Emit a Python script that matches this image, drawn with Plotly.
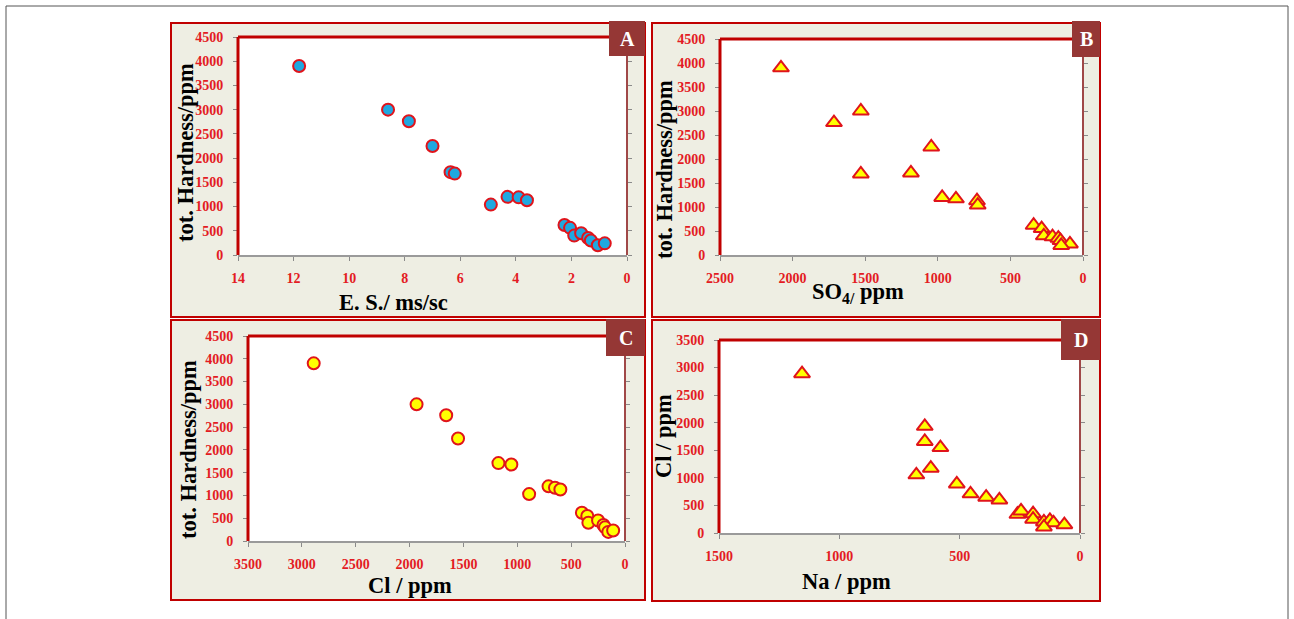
import plotly.graph_objects as go

W, H = 1294, 619

# ---------------- data ----------------
es_A = [11.8, 8.6, 7.85, 7.0, 6.35, 6.2, 4.9, 4.3, 3.9, 3.6, 2.25, 2.05, 1.9, 1.65, 1.4, 1.3, 1.05, 0.8]
th_A = [3900, 3000, 2760, 2250, 1710, 1680, 1040, 1200, 1190, 1130, 620, 560, 400, 450, 350, 300, 200, 240]

so4_B = [2080, 1715, 1530, 1530, 1185, 1045, 970, 875, 730, 725, 340, 285, 270, 210, 170, 155, 90, 150]
th_B = [3900, 2760, 3000, 1690, 1710, 2250, 1200, 1170, 1130, 1040, 620, 550, 400, 380, 350, 300, 230, 200]

cl_C = [2890, 1935, 1660, 1550, 1175, 1055, 890, 710, 650, 600, 400, 350, 340, 250, 200, 185, 155, 110]
th_C = [3900, 3000, 2760, 2250, 1710, 1680, 1030, 1200, 1170, 1130, 620, 550, 400, 450, 350, 300, 200, 230]

na_D = [1155, 645, 645, 580, 620, 680, 512, 455, 390, 335, 260, 245, 195, 195, 150, 125, 110, 65, 150]
cl_D = [2890, 1935, 1660, 1550, 1175, 1055, 890, 710, 650, 600, 340, 400, 350, 250, 200, 230, 185, 150, 110]

x_ticks_A = [14, 12, 10, 8, 6, 4, 2, 0]
x_ticks_B = [2500, 2000, 1500, 1000, 500, 0]
x_ticks_C = [3500, 3000, 2500, 2000, 1500, 1000, 500, 0]
x_ticks_D = [1500, 1000, 500, 0]
y_ticks_TH = [0, 500, 1000, 1500, 2000, 2500, 3000, 3500, 4000, 4500]
y_ticks_D = [0, 500, 1000, 1500, 2000, 2500, 3000, 3500]

# ---------------- layout helpers ----------------
def px(x):
    return x / W

def py(y):
    return 1 - y / H

RED = "#E0141B"
DARKRED = "#C00000"
TICKRED = "#E31B23"
PANEL_BG = "#EEEEE3"
LABEL_BG = "#953735"
SERIF = "Liberation Serif, Times New Roman, serif"
TITLE_SIZE = 22.5

panels = [
    dict(n="", plot=(238, 627, 37, 255), outer=(171, 645, 23, 317), lab=(609, 645, 21, 56), letter="A",
         xr=[14, 0], yr=[0, 4500], xt=x_ticks_A, yt=y_ticks_TH,
         xtitle="E. S./ ms/sc", xtpos=(393, 302), ytitle="tot. Hardness/ppm", ytpos=(185, 153)),
    dict(n="2", plot=(720, 1083, 39, 255), outer=(652, 1100, 23, 317), lab=(1072, 1100, 21, 57), letter="B",
         xr=[2500, 0], yr=[0, 4500], xt=x_ticks_B, yt=y_ticks_TH,
         xtitle="SO<sub>4/</sub> ppm", xtpos=(858, 293), ytitle="tot. Hardness/ppm", ytpos=(665, 170)),
    dict(n="3", plot=(248, 625, 336, 541), outer=(171, 645, 320, 600), lab=(606, 645, 319, 356), letter="C",
         xr=[3500, 0], yr=[0, 4500], xt=x_ticks_C, yt=y_ticks_TH,
         xtitle="Cl / ppm", xtpos=(410, 585), ytitle="tot. Hardness/ppm", ytpos=(188, 450)),
    dict(n="4", plot=(719, 1080, 340, 533), outer=(652, 1100, 320, 601), lab=(1061, 1100, 319, 360), letter="D",
         xr=[1500, 0], yr=[0, 3500], xt=x_ticks_D, yt=y_ticks_D,
         xtitle="Na / ppm", xtpos=(846, 581), ytitle="Cl / ppm", ytpos=(663, 436)),
]

fig = go.Figure()

series = [
    (es_A, th_A, "circle", "#1FA8E0"),
    (so4_B, th_B, "triangle-up", "#FFFF00"),
    (cl_C, th_C, "circle", "#FFFF00"),
    (na_D, cl_D, "triangle-up", "#FFFF00"),
]

shapes = []
annotations = []

# page frame
shapes.append(dict(type="rect", xref="paper", yref="paper", x0=px(6), x1=px(1288), y0=py(630), y1=py(6),
                   line=dict(color="#555555", width=1), fillcolor="rgba(0,0,0,0)", layer="below"))

for p, (xs, ys, sym, col) in zip(panels, series):
    n = p["n"]
    x0, x1, yt_, yb = p["plot"]
    ox0, ox1, oy0, oy1 = p["outer"]
    shapes.append(dict(type="rect", xref="paper", yref="paper", x0=px(ox0), x1=px(ox1), y0=py(oy1), y1=py(oy0),
                       line=dict(color=DARKRED, width=2), fillcolor=PANEL_BG, layer="below"))
    shapes.append(dict(type="rect", xref="paper", yref="paper", x0=px(x0), x1=px(x1), y0=py(yb), y1=py(yt_),
                       line=dict(width=0), fillcolor="white", layer="below"))
    shapes.append(dict(type="line", xref="paper", yref="paper", x0=px(x0), x1=px(x1), y0=py(yt_), y1=py(yt_),
                       line=dict(color=DARKRED, width=3)))
    shapes.append(dict(type="line", xref="paper", yref="paper", x0=px(x0), x1=px(x0), y0=py(yb), y1=py(yt_),
                       line=dict(color=DARKRED, width=3)))
    shapes.append(dict(type="line", xref="paper", yref="paper", x0=px(x1), x1=px(x1), y0=py(yb), y1=py(yt_),
                       line=dict(color="#A04848", width=2)))
    lx0, lx1, ly0, ly1 = p["lab"]
    shapes.append(dict(type="rect", xref="paper", yref="paper", x0=px(lx0), x1=px(lx1), y0=py(ly1), y1=py(ly0),
                       line=dict(width=0), fillcolor=LABEL_BG))
    annotations.append(dict(xref="paper", yref="paper", x=px((lx0 + lx1) / 2), y=py((ly0 + ly1) / 2),
                            text="<b>%s</b>" % p["letter"], showarrow=False, xanchor="center", yanchor="middle",
                            font=dict(family=SERIF, size=20, color="white")))
    tx, ty = p["xtpos"]
    annotations.append(dict(xref="paper", yref="paper", x=px(tx), y=py(ty), text="<b>%s</b>" % p["xtitle"],
                            showarrow=False, xanchor="center", yanchor="middle",
                            font=dict(family=SERIF, size=TITLE_SIZE, color="black")))
    tx, ty = p["ytpos"]
    annotations.append(dict(xref="paper", yref="paper", x=px(tx), y=py(ty), text="<b>%s</b>" % p["ytitle"],
                            showarrow=False, xanchor="center", yanchor="middle", textangle=-90,
                            font=dict(family=SERIF, size=TITLE_SIZE, color="black")))

    fig.add_trace(go.Scatter(x=xs, y=ys, mode="markers", xaxis="x" + n, yaxis="y" + n,
                             marker=dict(symbol=sym, size=12 if sym == "circle" else 14, color=col,
                                         line=dict(color=RED, width=2)),
                             showlegend=False, cliponaxis=False))

    axfont = dict(family=SERIF, size=14, color=TICKRED, weight="bold")
    xa = dict(domain=[px(x0), px(x1)], range=p["xr"], tickvals=p["xt"], anchor="y" + n,
              showgrid=False, zeroline=False, showline=True, linecolor="#9A9A9A", linewidth=1.5,
              ticks="outside", ticklen=4, tickcolor="#8A8A8A", tickfont=axfont, ticklabelstandoff=5,
              automargin=False, fixedrange=True)
    ya = dict(domain=[py(yb), py(yt_)], range=p["yr"], tickvals=p["yt"], anchor="x" + n,
              showgrid=False, zeroline=False, showline=False, mirror="ticks",
              ticks="outside", ticklen=4, tickcolor="#8A8A8A", tickfont=axfont, ticklabelstandoff=7,
              automargin=False, fixedrange=True)
    fig.update_layout(**{"xaxis" + n: xa, "yaxis" + n: ya})

fig.update_layout(width=W, height=H, margin=dict(l=0, r=0, t=0, b=0, autoexpand=False),
                  template="none",
                  paper_bgcolor="white", plot_bgcolor="rgba(0,0,0,0)",
                  shapes=shapes, annotations=annotations)

fig.write_html("out.html", config={"displayModeBar": False},
               post_script="document.body.style.margin='0';")
